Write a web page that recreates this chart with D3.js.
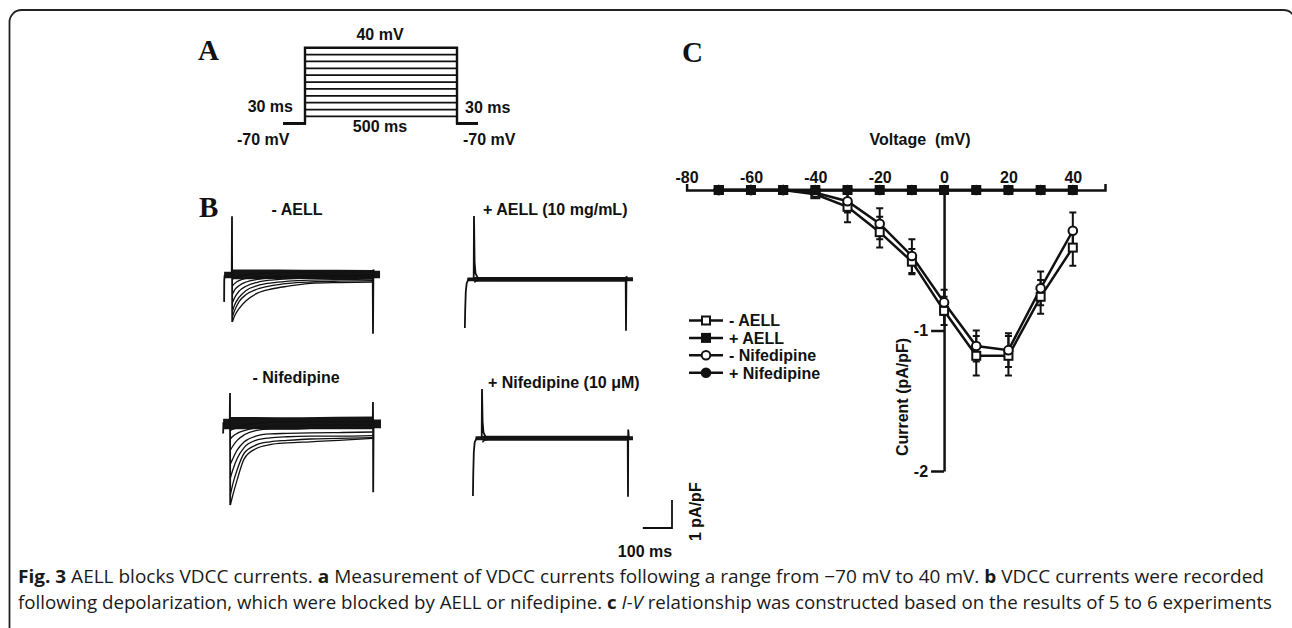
<!DOCTYPE html>
<html>
<head>
<meta charset="utf-8">
<script src="https://d3js.org/d3.v7.min.js"></script>
<style>
body { margin: 0; background: #fff; }
svg text { font-family: "Liberation Sans", Arial, sans-serif; font-weight: bold; fill: #111; }
</style>
</head>
<body>
<script>
// ---------- data ----------
// A: voltage step protocol
var holdLevel = -70;                                                   // mV
var stepLevels = [-60, -50, -40, -30, -20, -10, 0, 10, 20, 30, 40];    // mV
var protocolTimes = [-30, 0, 500, 530];                                // ms

// B: current traces (pA/pF relative to baseline), sampled at sweepT (ms)
var sweepT = [1, 10, 25, 50, 90, 140, 200, 280, 380, 499];
var aellCtrlSweeps = [
  [-1.68, -1.45, -1.2, -0.92, -0.65, -0.5, -0.4, -0.3, -0.27, -0.25],
  [-1.5, -1.25, -0.95, -0.7, -0.5, -0.38, -0.3, -0.25, -0.22, -0.2],
  [-1.3, -1.05, -0.8, -0.55, -0.38, -0.28, -0.22, -0.18, -0.16, -0.15],
  [-1.0, -0.8, -0.58, -0.4, -0.26, -0.18, -0.14, -0.1, -0.08, -0.08],
  [-0.7, -0.52, -0.38, -0.25, -0.16, -0.1, -0.06, -0.04, -0.03, -0.02],
  [-0.4, -0.3, -0.2, -0.12, -0.08, -0.05, -0.02, 0, 0, 0],
  [-0.15, -0.1, -0.05, 0, 0.05, 0.08, 0.1, 0.1, 0.1, 0.1]
];
var aellDrugSweeps = [
  [-0.12, -0.06, -0.03, -0.02, -0.01, 0, 0, 0, 0, 0],
  [0.04, 0.03, 0.03, 0.02, 0.02, 0.02, 0.02, 0.02, 0.02, 0.02]
];
var nifCtrlSweeps = [
  [-2.86, -2.5, -1.96, -1.2, -0.85, -0.7, -0.64, -0.6, -0.55, -0.48],
  [-2.5, -2.1, -1.6, -1.0, -0.72, -0.6, -0.55, -0.5, -0.48, -0.45],
  [-1.9, -1.6, -1.2, -0.8, -0.55, -0.46, -0.42, -0.4, -0.4, -0.38],
  [-1.4, -1.2, -0.9, -0.6, -0.4, -0.32, -0.3, -0.28, -0.27, -0.25],
  [-0.9, -0.75, -0.55, -0.35, -0.2, -0.15, -0.15, -0.12, -0.1, -0.1],
  [-0.5, -0.4, -0.3, -0.2, -0.1, -0.05, -0.05, 0, 0, 0],
  [-0.2, -0.15, -0.1, 0, 0.05, 0.1, 0.12, 0.12, 0.12, 0.12]
];
var nifDrugSweeps = [
  [-0.15, -0.08, -0.04, -0.02, -0.01, 0, 0, 0, 0, 0],
  [0.04, 0.03, 0.03, 0.03, 0.02, 0.02, 0.02, 0.02, 0.02, 0.02]
];
// noise band per trace set: [t, top, bottom]
var aellCtrlBand = [[-28, 0.12, -0.12], [-1, 0.12, -0.12], [2, 0.2, -0.15], [250, 0.19, -0.14], [499, 0.18, -0.14], [503, 0.15, -0.12], [525, 0.15, -0.12]];
var aellDrugBand = [[-22, 0.05, -0.08], [-1, 0.05, -0.08], [3, 0.07, -0.1], [499, 0.07, -0.1], [503, 0.06, -0.08], [523, 0.06, -0.08]];
var nifCtrlBand = [[-24, 0.22, -0.15], [-1, 0.22, -0.15], [2, 0.29, -0.15], [250, 0.28, -0.15], [499, 0.3, -0.15], [503, 0.2, -0.12], [528, 0.2, -0.12]];
var nifDrugBand = [[-22, 0.06, -0.08], [-1, 0.06, -0.08], [3, 0.08, -0.1], [499, 0.08, -0.1], [503, 0.06, -0.08], [517, 0.06, -0.08]];
// capacitive transients: [t, I]
var aellCtrlSpikes = [
  [[-28, -0.96], [-27.5, -0.2], [-26, 0]],
  [[-1, 0], [0, 2.1], [0.8, -1.68]],
  [[499, -0.1], [500, -2.1], [501.5, 0.2], [504, 0]]
];
var aellDrugSpikes = [
  [[-30, -1.75], [-29, -1.1], [-27, -0.45], [-24, -0.15], [-18, 0]],
  [[-1, 0], [0, 2.25], [2, 0.6], [5, 0.2], [12, 0.05], [25, 0]],
  [[499, 0], [500, -1.85], [501.5, 0.1], [504, 0]]
];
var nifCtrlSpikes = [
  [[-24, -0.3], [-23, 0.1], [-22, 0]],
  [[-1, 0], [0, 1.14], [0.8, -2.86]],
  [[499, 0], [500, 0.82], [500.7, -2.4], [502, 0]]
];
var nifDrugSpikes = [
  [[-31, -2.07], [-30, -1.3], [-28, -0.5], [-25, -0.15], [-18, 0]],
  [[-1, 0], [0, 1.75], [2, 0.6], [5, 0.2], [12, 0.05], [25, 0]],
  [[499, 0], [500, -2.1], [500.8, 0.3], [503, 0]]
];
var traceTitles = ["- AELL", "+ AELL (10 mg/mL)", "- Nifedipine", "+ Nifedipine (10 \u03bcM)"];

// C: I-V relationship
var voltages   = [-70, -60, -50, -40, -30, -20, -10, 0, 10, 20, 30, 40];
var ctrlAell   = [0, 0, 0, -0.03, -0.12, -0.30, -0.51, -0.86, -1.18, -1.18, -0.76, -0.41];
var ctrlAellSem = [0, 0, 0, 0.02, 0.11, 0.11, 0.09, 0.10, 0.14, 0.14, 0.12, 0.13];
var plusAell   = [0, 0, 0, 0, 0, 0, 0, 0, 0, 0, 0, 0];
var ctrlNif    = [0, 0, 0, -0.02, -0.08, -0.24, -0.47, -0.80, -1.11, -1.14, -0.70, -0.29];
var ctrlNifSem = [0, 0, 0, 0.02, 0.08, 0.11, 0.12, 0.09, 0.11, 0.12, 0.12, 0.13];
var plusNif    = [0, 0, 0, 0, 0, 0, 0, 0, 0, 0, 0, 0];
var xTicks = [-80, -60, -40, -20, 0, 20, 40];
var yTicks = [-1, -2];
var legendLabels = ["- AELL", "+ AELL", "- Nifedipine", "+ Nifedipine"];

// ---------- drawing ----------
var svg = d3.select("body").append("svg")
    .attr("width", 1292).attr("height", 628);

// frame
svg.append("rect")
    .attr("x", 9.5).attr("y", 10)
    .attr("width", 1286).attr("height", 700)
    .attr("rx", 12)
    .style("fill", "none").style("stroke", "#222").style("stroke-width", 1.8);

// panel letters
[["A", 198, 60], ["B", 199, 217], ["C", 682, 62]].forEach(function(l) {
  svg.append("text").attr("x", l[1]).attr("y", l[2]).text(l[0])
    .style("font-family", "'Liberation Serif', 'Times New Roman', serif")
    .style("font-size", "29px");
});

/* A: protocol */
var tA = d3.scaleLinear().domain(protocolTimes).range([283, 305, 457, 478]);
var vA = d3.scaleLinear().domain([holdLevel, 40]).range([123.3, 47.7]);
var protoLine = d3.line().x(function(d) { return tA(d[0]); }).y(function(d) { return vA(d[1]); });
stepLevels.forEach(function(v) {
  svg.append("path")
    .attr("d", protoLine([[protocolTimes[0], holdLevel], [protocolTimes[1], holdLevel], [protocolTimes[1], v],
                          [protocolTimes[2], v], [protocolTimes[2], holdLevel], [protocolTimes[3], holdLevel]]))
    .style("fill", "none").style("stroke", "#111")
    .style("stroke-width", v === 40 ? 2.4 : 1.7);
});
function label(x, y, txt, anchor, size) {
  return svg.append("text").attr("x", x).attr("y", y).text(txt)
    .attr("text-anchor", anchor || "start")
    .style("font-size", (size || 16) + "px");
}
label(380, 40, "40 mV", "middle");
label(293, 112, "30 ms", "end");
label(465, 113, "30 ms", "start");
label(237, 145, "-70 mV", "start");
label(380, 132, "500 ms", "middle");
label(463, 145, "-70 mV", "start");

/* B: current traces */
var pxPerUnit = 28;
var tracePanels = [
  { tx: [232, 373], base: 275, band: aellCtrlBand, sweeps: aellCtrlSweeps, spikes: aellCtrlSpikes, title: [297, 215, "middle"] },
  { tx: [474, 626], base: 279, band: aellDrugBand, sweeps: aellDrugSweeps, spikes: aellDrugSpikes, title: [483, 215, "start"] },
  { tx: [230, 373], base: 425, band: nifCtrlBand, sweeps: nifCtrlSweeps, spikes: nifCtrlSpikes, title: [296, 383, "middle"] },
  { tx: [482, 628], base: 438, band: nifDrugBand, sweeps: nifDrugSweeps, spikes: nifDrugSpikes, title: [488, 388, "start"] }
];
var lastT, lastI;
tracePanels.forEach(function(p, k) {
  var xT = d3.scaleLinear().domain([0, 500]).range(p.tx);
  var yT = d3.scaleLinear().domain([0, -1]).range([p.base, p.base + pxPerUnit]);
  lastT = xT; lastI = yT;
  var g = svg.append("g");
  g.append("path")
    .attr("d", d3.area().x(function(d) { return xT(d[0]); })
      .y0(function(d) { return yT(d[1]); }).y1(function(d) { return yT(d[2]); })
      .curve(d3.curveMonotoneX)(p.band))
    .style("fill", "#151515");
  var sweepLine = d3.line().x(function(d, i) { return xT(sweepT[i]); })
    .y(function(d) { return yT(d); }).curve(d3.curveMonotoneX);
  p.sweeps.forEach(function(s) {
    g.append("path").attr("d", sweepLine(s))
      .style("fill", "none").style("stroke", "#111").style("stroke-width", 1.3);
  });
  var spikeLine = d3.line().x(function(d) { return xT(d[0]); }).y(function(d) { return yT(d[1]); });
  p.spikes.forEach(function(s) {
    g.append("path").attr("d", spikeLine(s))
      .style("fill", "none").style("stroke", "#111").style("stroke-width", 1.8);
  });
  label(p.title[0], p.title[1], traceTitles[k], p.title[2]);
});

// scale bar (100 ms, 1 pA/pF) using the trace scales
var barX = 672, barY = 528;
var barW = lastT(100) - lastT(0), barH = lastI(-1) - lastI(0);
svg.append("path")
  .attr("d", "M" + (barX - barW) + "," + barY + "H" + barX + "V" + (barY - barH))
  .style("fill", "none").style("stroke", "#111").style("stroke-width", 1.8);
label(645, 557, "100 ms", "middle");
label(0, 0, "1 pA/pF", "start").attr("transform", "translate(701,541) rotate(-90)");

/* C: I-V curve */
var xC = d3.scaleLinear().domain([-80, 50]).range([686.6, 1105]);
var yC = d3.scaleLinear().domain([0, -2]).range([190, 471]);

var xAxis = svg.append("g").attr("transform", "translate(0," + yC(0) + ")")
  .call(d3.axisTop(xC).tickValues(xTicks).tickSize(0).tickSizeOuter(6).tickPadding(7)
    .tickFormat(function(d) { return String(d); }));
var yAxis = svg.append("g").attr("transform", "translate(" + xC(0) + ",0)")
  .call(d3.axisLeft(yC).tickValues(yTicks).tickSize(13).tickSizeOuter(0).tickPadding(3)
    .tickFormat(function(d) { return String(d); }));
[xAxis, yAxis].forEach(function(ax) {
  ax.selectAll("path, line").style("stroke", "#111").style("stroke-width", 2.5);
  ax.selectAll("text").style("font-size", "16px").style("font-family", "'Liberation Sans', Arial, sans-serif")
    .style("font-weight", "bold").style("fill", "#111");
});
label(920, 145, "Voltage  (mV)", "middle").attr("xml:space", "preserve");
label(0, 0, "Current (pA/pF)", "middle").attr("transform", "translate(908,397) rotate(-90)");

var series = [
  { vals: ctrlAell, sem: ctrlAellSem, shape: "square", fill: "#fff" },
  { vals: plusAell, sem: null, shape: "square", fill: "#111" },
  { vals: ctrlNif, sem: ctrlNifSem, shape: "circle", fill: "#fff" },
  { vals: plusNif, sem: null, shape: "circle", fill: "#111" }
];
var ivLine = d3.line().x(function(d, i) { return xC(voltages[i]); }).y(function(d) { return yC(d); });

function marker(g, shape, fill, cx, cy) {
  if (shape === "square") {
    g.append("rect").attr("x", cx - 4).attr("y", cy - 4).attr("width", 8).attr("height", 8)
      .style("fill", fill).style("stroke", "#111").style("stroke-width", 2);
  } else {
    g.append("circle").attr("cx", cx).attr("cy", cy).attr("r", 4.3)
      .style("fill", fill).style("stroke", "#111").style("stroke-width", 2);
  }
}

var gIV = svg.append("g");
series.forEach(function(s) {
  gIV.append("path").attr("d", ivLine(s.vals))
    .style("fill", "none").style("stroke", "#111").style("stroke-width", 2.5);
});
series.forEach(function(s) {
  if (!s.sem) return;
  s.vals.forEach(function(v, i) {
    if (!s.sem[i]) return;
    var x = xC(voltages[i]), y1 = yC(v + s.sem[i]), y2 = yC(v - s.sem[i]);
    gIV.append("path").attr("d", "M" + x + "," + y1 + "V" + y2 + "M" + (x - 3.5) + "," + y1 + "h7M" + (x - 3.5) + "," + y2 + "h7")
      .style("fill", "none").style("stroke", "#111").style("stroke-width", 2);
  });
});
// open markers first, filled (drug) markers on top along the axis
[series[0], series[2], series[1], series[3]].forEach(function(s) {
  s.vals.forEach(function(v, i) { marker(gIV, s.shape, s.fill, xC(voltages[i]), yC(v)); });
});

// legend
series.forEach(function(s, i) {
  var y = 320.5 + i * 17.4;
  svg.append("line").attr("x1", 689).attr("x2", 723).attr("y1", y).attr("y2", y)
    .style("stroke", "#111").style("stroke-width", 2.5);
  marker(svg, s.shape, s.fill, 706, y);
  label(729, y + 5.8, legendLabels[i], "start");
});

/* caption */
var captionLines = [
  [["Fig. 3", "b"], [" AELL blocks VDCC currents. ", ""], ["a", "b"], [" Measurement of VDCC currents following a range from \u221270 mV to 40 mV. ", ""], ["b", "b"], [" VDCC currents were recorded", ""]],
  [["following depolarization, which were blocked by AELL or nifedipine. ", ""], ["c", "b"], [" ", ""], ["I-V", "i"], [" relationship was constructed based on the results of 5 to 6 experiments", ""]]
];
var captionWidths = [1246, 1254];
captionLines.forEach(function(parts, li) {
  var t = svg.append("text").attr("x", 18).attr("y", 583 + li * 25.5)
    .attr("textLength", captionWidths[li]).attr("lengthAdjust", "spacingAndGlyphs")
    .attr("xml:space", "preserve")
    .style("font-family", "'Open Sans', 'Noto Sans', sans-serif")
    .style("font-weight", "normal").style("font-size", "18px").style("fill", "#1a1a1a");
  parts.forEach(function(p) {
    t.append("tspan").text(p[0])
      .style("font-weight", p[1] === "b" ? "bold" : "normal")
      .style("font-style", p[1] === "i" ? "italic" : "normal");
  });
});
</script>
</body>
</html>
